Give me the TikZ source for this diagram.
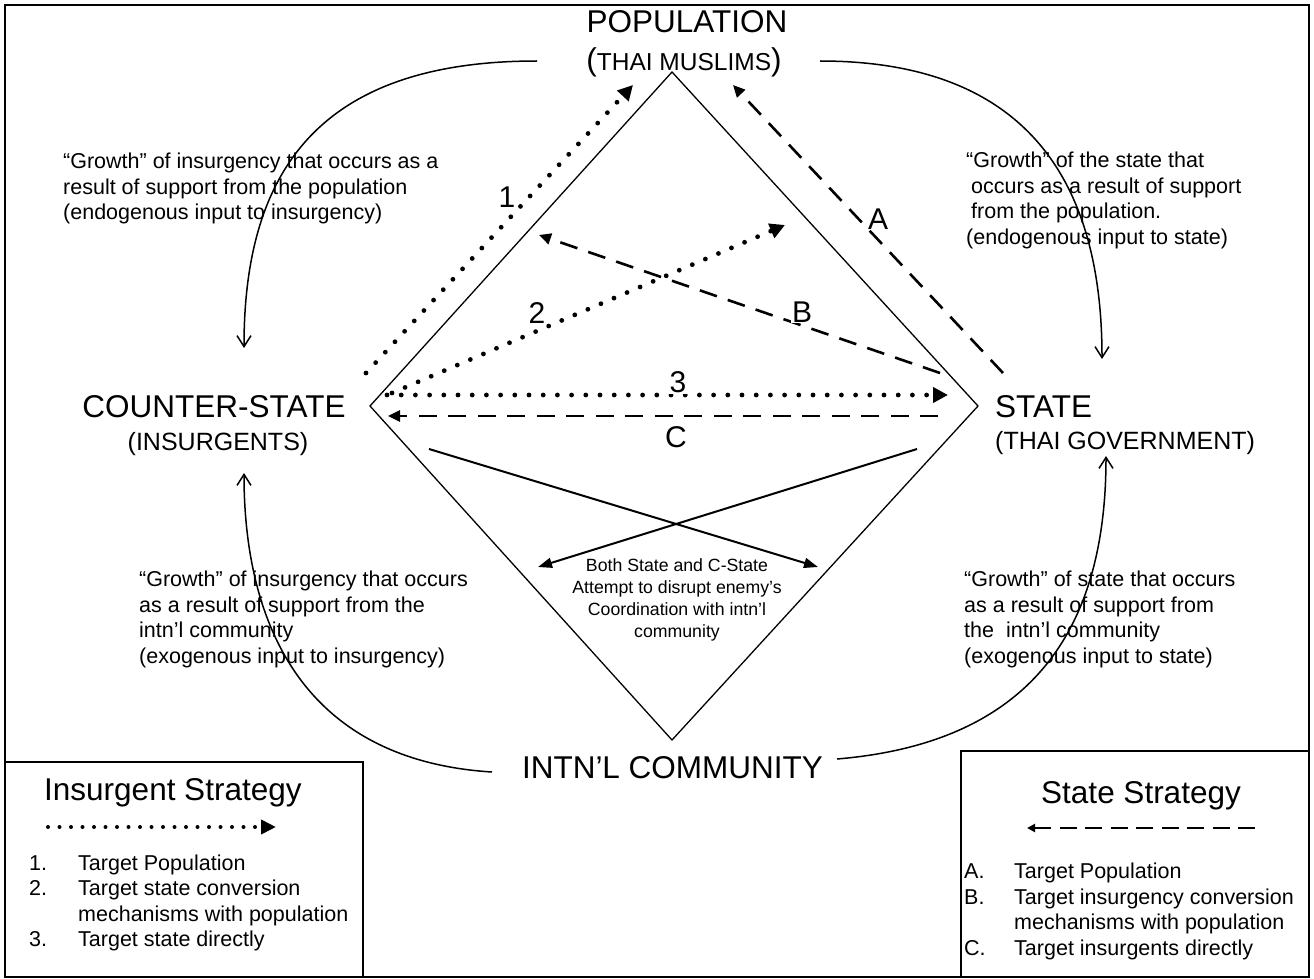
\documentclass[tikz,border=0pt]{standalone}
\usepackage{fontspec}
\setmainfont{Liberation Sans}
\usetikzlibrary{arrows.meta}
\begin{document}
\begin{tikzpicture}[x=1pt,y=-1pt,
  big/.style={inner sep=0pt, font=\fontsize{31.5}{36}\selectfont},
  mid/.style={inner sep=0pt, font=\fontsize{25}{30}\selectfont},
  body/.style={inner sep=0pt, align=left, anchor=north west, font=\fontsize{21.5}{25.5}\selectfont},
  item/.style={inner sep=0pt, anchor=base west, font=\fontsize{21.5}{25.5}\selectfont},
  numlbl/.style={inner sep=0pt, font=\fontsize{30}{34}\selectfont},
  diam/.style={line width=1.3pt},
  dotarr/.style={line width=4.8pt, line cap=round, dash pattern=on 0pt off 14.2pt, -{Triangle[length=15pt,width=15pt]}},
  dasharr/.style={line width=2.6pt, dash pattern=on 18pt off 11.5pt, -{Triangle[length=12pt,width=11pt]}},
  curvarr/.style={line width=1.5pt, -{Straight Barb[length=11pt,width=14pt]}},
  crossarr/.style={line width=2pt, -{Triangle[length=14pt,width=10pt]}},
  boxline/.style={line width=1.5pt}
]
\useasboundingbox (0,0) rectangle (1314,979);
% frame
\draw[line width=2.5pt] (5,5) rectangle (1309,977);

% main labels
\node[big, anchor=base] (pop) at (687,33) {POPULATION};
\node[inner sep=0pt, anchor=base] (popsub) at (684,71) {\fontsize{31.5}{36}\selectfont(\fontsize{24.5}{30}\selectfont THAI MUSLIMS\fontsize{31.5}{36}\selectfont)};
\node[big, anchor=base] (cs) at (214,417) {COUNTER-STATE};
\node[mid, anchor=base] (cssub) at (218,450) {(INSURGENTS)};
\node[big, anchor=base west] (st) at (995,417) {STATE};
\node[mid, anchor=base west] (stsub) at (995,449) {(THAI GOVERNMENT)};
\node[big, anchor=base] (ic) at (672.5,778) {INTN’L COMMUNITY};

% diamond
\coordinate (dT) at (672,72);
\coordinate (dL) at (370,406);
\coordinate (dR) at (978,406);
\coordinate (dB) at (672,740);
\draw[diam] (dT) -- (dR) -- (dB) -- (dL) -- cycle;

% curved growth arrows
\coordinate (c1s) at (537,61);  \coordinate (c1e) at (244,348);
\coordinate (c2s) at (820,61);  \coordinate (c2e) at (1102,359);
\coordinate (c3s) at (492,772); \coordinate (c3e) at (244,473);
\coordinate (c4s) at (837,759); \coordinate (c4e) at (1106,456);
\draw[curvarr] (c1s) .. controls (320,61) and (244,170) .. (c1e);
\draw[curvarr] (c2s) .. controls (1030,61) and (1102,185) .. (c2e);
\draw[curvarr] (c3s) .. controls (300,760) and (244,620) .. (c3e);
\draw[curvarr] (c4s) .. controls (1040,742) and (1106,620) .. (c4e);

% growth texts
\node[body] (tl) at (63,153) {“Growth” of insurgency that occurs as a\\result of support from the population\\(endogenous input to insurgency)};
\node[body] (tr) at (966,152) {“Growth” of the state that\\\hspace*{5pt}occurs as a result of support\\\hspace*{5pt}from the population.\\(endogenous input to state)};
\node[body] (bl) at (139,571) {“Growth” of insurgency that occurs\\as a result of support from the\\intn’l community\\(exogenous input to insurgency)};
\node[body] (br) at (964,571) {“Growth” of state that occurs\\as a result of support from\\the\ \ intn’l community\\(exogenous input to state)};

% insurgent strategy arrows (dotted)
\coordinate (i1s) at (366,373); \coordinate (i1e) at (633,85);
\coordinate (i2s) at (392,393); \coordinate (i2e) at (785,225);
\coordinate (i3s) at (387,395); \coordinate (i3e) at (948,395);
\draw[dotarr] (i1s) -- (i1e);
\draw[dotarr] (i2s) -- (i2e);
\draw[dotarr] (i3s) -- (i3e);
\node[numlbl] (n1) at (507,197) {1};
\node[numlbl] (n2) at (537,313) {2};
\node[numlbl, fill=white, inner sep=1pt] (n3) at (678,382) {3};

% state strategy arrows (dashed)
\coordinate (sAs) at (1003,373); \coordinate (sAe) at (733,85);
\coordinate (sBs) at (940,373);  \coordinate (sBe) at (539,235);
\coordinate (sCs) at (938,416);  \coordinate (sCe) at (388,416);
\draw[dasharr] (sAs) -- (sAe);
\draw[dasharr] (sBs) -- (sBe);
\draw[dasharr] (sCs) -- (sCe);
\node[numlbl, fill=white, inner sep=1pt] (lA) at (878,219) {A};
\node[numlbl, fill=white, inner sep=1pt] (lB) at (802,312) {B};
\node[numlbl] (lC) at (676,437) {C};

% crossing arrows
\coordinate (x1s) at (429,449); \coordinate (x1e) at (818,567);
\coordinate (x2s) at (917,449); \coordinate (x2e) at (538,567);
\draw[crossarr] (x1s) -- (x1e);
\draw[crossarr] (x2s) -- (x2e);
\node[inner sep=0pt, anchor=north, align=center, font=\fontsize{17.7}{22}\selectfont] (ctr) at (677,558) {Both State and C-State\\Attempt to disrupt enemy’s\\Coordination with intn’l\\community};

% left legend
\draw[boxline] (5,762) rectangle (363,977);
\node[big, anchor=base west] (lgL) at (44,800) {Insurgent Strategy};
\coordinate (lgLs) at (48,827); \coordinate (lgLe) at (276,827);
\draw[line width=4pt, line cap=round, dash pattern=on 0pt off 11.5pt, -{Triangle[length=15pt,width=14pt]}] (lgLs) -- (lgLe);
\node[item] (li1n) at (29,870) {1.};
\node[item] (li1) at (78,870) {Target Population};
\node[item] (li2n) at (29,895.5) {2.};
\node[item] (li2) at (78,895.5) {Target state conversion};
\node[item] (li2b) at (78,921) {mechanisms with population};
\node[item] (li3n) at (29,946.5) {3.};
\node[item] (li3) at (78,946.5) {Target state directly};

% right legend
\draw[boxline] (961,751) rectangle (1309,977);
\node[big, anchor=base west] (lgR) at (1041,803) {State Strategy};
\coordinate (lgRs) at (1255,828); \coordinate (lgRe) at (1027,828);
\draw[line width=2.6pt, dash pattern=on 17pt off 8.5pt, -{Triangle[length=8pt,width=8pt]}] (lgRs) -- (lgRe);
\node[item] (riAn) at (964,878) {A.};
\node[item] (riA) at (1014,878) {Target Population};
\node[item] (riBn) at (964,904) {B.};
\node[item] (riB) at (1014,904) {Target insurgency conversion};
\node[item] (riBb) at (1014,929.5) {mechanisms with population};
\node[item] (riCn) at (964,955) {C.};
\node[item] (riC) at (1014,955) {Target insurgents directly};
\end{tikzpicture}
\end{document}
